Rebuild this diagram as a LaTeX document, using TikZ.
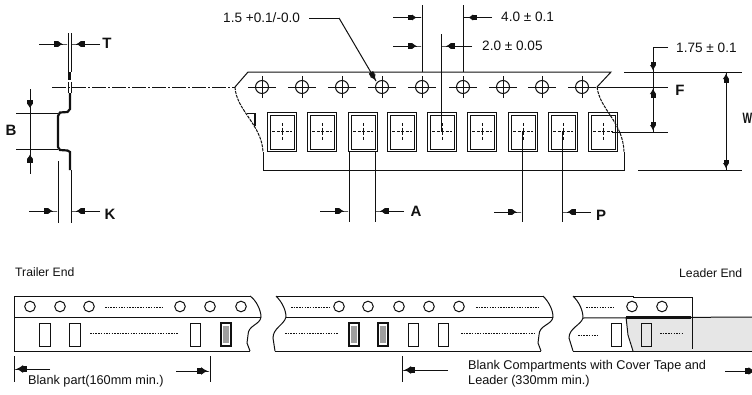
\documentclass[tikz,border=0pt]{standalone}
\usepackage{fontspec}
\setmainfont{Liberation Sans}
\usetikzlibrary{arrows.meta}
\definecolor{inkc}{HTML}{111111}
\definecolor{tapegrey}{HTML}{E6E6E6}
\tikzset{
  x=1pt,y=-1pt,
  lin/.style={draw=inkc,line width=1pt},
  heavy/.style={draw=inkc,line width=2.2pt},
  tear/.style={draw=inkc,line width=1pt,dash pattern=on 3pt off 1pt},
  dimarrow/.style={draw=inkc,line width=1pt,-{Rectangle[length=4pt,width=5.5pt]Latex[length=4.5pt,width=6.5pt]Rectangle[length=5pt,width=1pt]}},
  dimarrowv/.style={draw=inkc,line width=1pt,-{Rectangle[length=3.5pt,width=5pt]Latex[length=5.5pt,width=6.5pt]Rectangle[length=1pt,width=1pt]}},
  dimarrowb/.style={draw=inkc,line width=1pt,-{Rectangle[length=4pt,width=6.5pt]Latex[length=6.5pt,width=8pt]Rectangle[length=2pt,width=1pt]}},
  cdash/.style={draw=inkc,line width=1pt,dash pattern=on 14pt off 2pt on 2pt off 2pt},
  fine/.style={draw=inkc,line width=1pt,dash pattern=on 3pt off 1.5pt},
  dots/.style={draw=inkc,line width=0.8pt,dash pattern=on 1.5pt off 1.2pt},
  dimtxt/.style={font=\fontsize{13.6}{14}\selectfont,text=inkc,inner sep=0pt},
  lab/.style={font=\fontsize{15}{15}\selectfont\bfseries,text=inkc,inner sep=0pt},
  small/.style={font=\fontsize{12.7}{15}\selectfont,text=inkc,inner sep=0pt,align=left},
}
\begin{document}
\begin{tikzpicture}
\useasboundingbox (0,0) rectangle (752,394);
\clip (0,0) rectangle (752,394);
\fill[white] (0,0) rectangle (752,394);

% --- side view ---
\draw[lin] (68,33) -- (68,72);
\draw[lin] (71,33) -- (71,72);
\draw[dimarrow] (39,44) -- (67.5,44);
\draw[dimarrow] (100,44) -- (71.5,44);
\node[lab] (T) at (107,43) {T};
\draw[heavy] (69.5,72) -- (69.5,80);
\draw[lin] (68,82) -- (68,93);
\draw[lin] (71,82) -- (71,93);
\draw[cdash] (52,87) -- (235,87);
\draw[heavy] (70,93) -- (70,109) -- (67.5,112) -- (60,112.5) -- (58,116) -- (58,147) -- (60,150) -- (67.5,150.5) -- (70,152) -- (70,170);
\draw[lin] (16,113.5) -- (58,113.5);
\draw[lin] (16,149) -- (58,149);
\draw[lin] (30,89) -- (30,174);
\draw[dimarrow] (30,93) -- (30,113);
\draw[dimarrow] (30,170) -- (30,149.5);
\node[lab] (B) at (11,130) {B};
\draw[lin] (58,161) -- (58,223);
\draw[lin] (71,170) -- (71,223);
\draw[dimarrow] (29,211) -- (57.5,211);
\draw[dimarrow] (100,211) -- (71.5,211);
\node[lab] (K) at (110,214) {K};

% --- upper tape ---
\coordinate (tapeTL) at (248,72); \coordinate (tapeTR) at (611,72);
\coordinate (tapeBL) at (263,170); \coordinate (tapeBR) at (624,170);
\draw[lin] (235,87) -- (tapeTL) -- (tapeTR) -- (597,87);
\draw[tear] (235,87) .. controls (236,110) and (262,125) .. (263,152);
\draw[lin] (263,152) -- (tapeBL) -- (tapeBR) -- (624,152);
\draw[tear] (597,87) .. controls (600,110) and (623,122) .. (624,152);
\foreach \x in {262,302,342,382,422,463,503,542,582}{
  \draw[inkc,line width=1pt] (\x,87) circle[radius=6.5];
  \draw[inkc,line width=1pt] (\x-14,87) -- (\x+14,87);
  \draw[inkc,line width=1pt] (\x,76) -- (\x,98);
}
\foreach \x in {270,310,351,390,430,470,511,551,591}{
  \draw[inkc,line width=1.7pt] (\x-2.5,112.5) rectangle (\x+26.5,151.5);
  \draw[inkc,line width=0.7pt] (\x,115) rectangle (\x+24,149);
  \draw[fine] (\x+2,131.5) -- (\x+22,131.5);
  \draw[fine] (\x+12,123) -- (\x+12,140);
}
% corner of the cut pocket
\draw[inkc,line width=1pt] (247,113) -- (255,113);
\draw[inkc,line width=1.7pt] (255,113) -- (255,126);

% dimension 1.5
\node[dimtxt,anchor=west] (d15) at (223,18) {1.5 +0.1/-0.0};
\coordinate (d15a) at (309,18); \coordinate (d15b) at (339,18);
\draw[lin] (d15a) -- (d15b);
\draw[dimarrowv] (d15b) -- (376,81);
% dimension 4.0
\draw[lin] (422,5) -- (422,72);
\draw[lin] (463,5) -- (463,72);
\draw[dimarrow] (393,17.5) -- (421.5,17.5);
\draw[dimarrow] (492,17.5) -- (463.5,17.5);
\node[dimtxt,anchor=west] (d40) at (501,17) {4.0 ± 0.1};
% dimension 2.0
\draw[lin] (441,34) -- (441,131);
\draw[dimarrow] (393,46) -- (421.5,46);
\draw[dimarrow] (472,46) -- (441.5,46);
\node[dimtxt,anchor=west] (d20) at (482,46) {2.0 ± 0.05};
% dimension 1.75
\draw[lin] (668,47) -- (653,47) -- (653,132);
\draw[lin] (624,72) -- (742,72);
\draw[dimarrowv] (653,57) -- (653,71.5);
\node[dimtxt,anchor=west] (d175) at (676,47.5) {1.75 ± 0.1};
% F
\draw[lin] (597,87) -- (668,87);
\draw[dimarrowv] (653,104) -- (653,87.5);
\draw[dimarrowv] (653,115) -- (653,131.5);
\draw[lin] (612,132) -- (668,132);
\node[lab] (F) at (680,90) {F};
% W
\draw[lin] (638,170) -- (742,170);
\draw[lin] (726,72) -- (726,170);
\draw[dimarrowv] (726,92) -- (726,72.5);
\draw[dimarrowv] (726,150) -- (726,169.5);
\node[lab,anchor=west,xscale=0.68] (W) at (742.5,118) {W};
% A
\draw[lin] (349,152) -- (349,222);
\draw[lin] (375,152) -- (375,222);
\draw[dimarrow] (320,211) -- (348.5,211);
\draw[dimarrow] (404,211) -- (375.5,211);
\node[lab] (A) at (416,211) {A};
% P
\draw[lin] (522,132) -- (522,222);
\draw[lin] (562,132) -- (562,222);
\draw[dimarrow] (494,212) -- (521.5,212);
\draw[dimarrow] (591,212) -- (562.5,212);
\node[lab] (P) at (601,215) {P};

% --- lower tape ---
\node[small,font=\fontsize{12.2}{14}\selectfont,anchor=west] (trailer) at (15,272) {Trailer End};
\node[small,font=\fontsize{12.2}{14}\selectfont,anchor=west] (leader) at (679,273) {Leader End};

\fill[tapegrey] (626,317) -- (752,317) -- (752,351) -- (633,351) -- (629,335) -- cycle;
% strip 1
\draw[lin] (250,296) -- (14,296) -- (14,351) -- (250,351);
\draw[lin] (14,317) -- (261,317);
\draw[lin] (250,296) .. controls (256,300) and (261,310) .. (261,317) .. controls (260,325) and (248,325) .. (248,335) -- (247,343) -- (250,351);
% strip 2
\draw[lin] (276,296) -- (543,296);
\draw[lin] (286,317) -- (553,317);
\draw[lin] (275,351) -- (541,351);
\draw[lin] (276,296) .. controls (282,302) and (286,310) .. (286,317) .. controls (284,325) and (273,328) .. (273,338) -- (275,351);
\draw[lin] (543,296) .. controls (549,302) and (553,310) .. (553,317) .. controls (552,325) and (539,325) .. (539,335) -- (538,343) -- (541,351);
% strip 3
\draw[lin] (573,296) -- (633,296) -- (633,297) -- (692,297);
\draw[lin] (583,318) -- (752,317);
\draw[heavy] (626,317.5) -- (691,317.5);
\draw[lin] (573,351) -- (752,351);
\draw[lin] (573,296) .. controls (579,302) and (583,310) .. (583,318) .. controls (581,325) and (569,328) .. (569,338) -- (573,351);
\draw[lin] (692.5,297) -- (692.5,349);
\draw[lin] (626,317) -- (628,335) -- (633,351);
% holes
\foreach \x in {30,60,89,180,210,241,339,368,399,429,459,632,662}{
  \draw[inkc,line width=1pt] (\x,306.5) circle[radius=5.3];
}
% compartments
\foreach \x in {39.5,69.5,190,408,438,611,641}{
  \draw[inkc,line width=1pt] (\x,323) rectangle (\x+10.5,346);
}
\foreach \x in {221,349,378}{
  \draw[inkc,line width=1.3pt] (\x,323) rectangle (\x+10,346);
  \fill[gray!75] (\x+2,326) rectangle (\x+8,343);
}
% leaders of dots
\draw[dots] (105,307) -- (163,307);
\draw[dots] (90,333) -- (178,333);
\draw[dots] (291,307) -- (329,307);
\draw[dots] (285,333) -- (339,333);
\draw[dots] (476,307) -- (539,307);
\draw[dots] (461,333) -- (534,333);
\draw[dots] (586,307) -- (614,307);
\draw[dots] (578,335) -- (599,335);
\draw[dots] (660,333) -- (684,333);

% lengths
\draw[lin] (14,356) -- (14,382);
\draw[lin] (210,356) -- (210,382);
\draw[dimarrowb] (50,369) -- (14.5,369);
\draw[dimarrowb] (176,371) -- (209.5,371);
\node[small,anchor=west] (blank) at (28,381) {Blank part(160mm min.)};
\draw[lin] (402,356) -- (402,382);
\draw[dimarrowb] (448,370) -- (402.5,370);
\node[small,anchor=north west] (comp) at (468,360) {Blank Compartments with Cover Tape and\\Leader (330mm min.)};
\draw[dimarrowb] (725,371) -- (757,371);
\end{tikzpicture}
\end{document}
